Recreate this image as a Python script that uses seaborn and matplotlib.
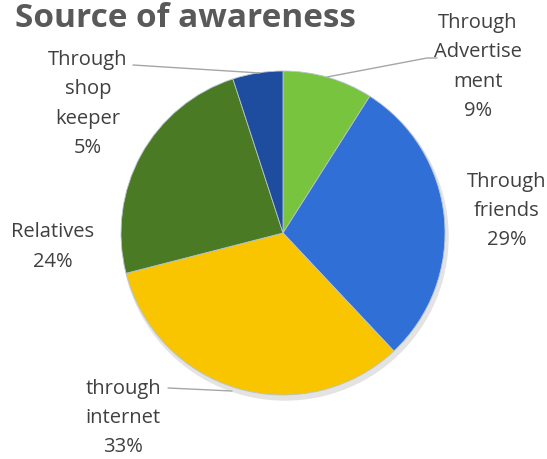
import matplotlib
matplotlib.use("Agg")
import matplotlib.pyplot as plt
import seaborn as sns

sns.set_theme(style="white")
plt.rcParams['font.family'] = ['Open Sans', 'DejaVu Sans']

# Data
categories = ["Through\nAdvertise\nment", "Through\nfriends", "through\ninternet",
              "Relatives", "Through\nshop\nkeeper"]
shares = [9, 29, 33, 24, 5]
colors = ["#78c43f", "#2f6fd6", "#f9c500", "#4a7b24", "#1e4c9f"]

W, H = 547, 459
fig = plt.figure(figsize=(W / 100, H / 100), dpi=100)
ax = fig.add_axes([0, 0, 1, 1])


def py(y):
    # pixel row from the top -> data y
    return H - y


cx, cy, r = 283, py(233), 162

# soft shadow
shadow = plt.Circle((cx + 2, cy - 4), r + 1, color="#e3e3e3", zorder=0)
ax.add_patch(shadow)

ax.pie(shares, colors=colors, startangle=90, counterclock=False,
       center=(cx, cy), radius=r, frame=True,
       wedgeprops=dict(edgecolor="#b8c4d0", linewidth=0.6))
ax.set_xlim(0, W)
ax.set_ylim(0, H)
ax.set_aspect("equal")
ax.axis("off")

# label placement (pixel coords of text centres)
label_pos = [(478, 67), (507, 211), (123, 418), (53, 247), (88, 104)]
for lab, val, (x, y) in zip(categories, shares, label_pos):
    ax.text(x, py(y), f"{lab}\n{val}%", ha="center", va="center",
            fontsize=14.5, color="#404040", linespacing=1.62)

# leader lines
leader = dict(color="#a6a6a6", lw=1.0, zorder=5)
ax.plot([327, 427, 437], [py(77), py(58), py(58)], **leader)
ax.plot([133, 260], [py(65), py(73)], **leader)
ax.plot([168, 232], [py(388), py(391)], **leader)

ax.text(15, py(27), "Source of awareness", ha="left", va="baseline",
        fontsize=24, fontweight="bold", color="#595959")

fig.savefig("out.png", dpi=100)
